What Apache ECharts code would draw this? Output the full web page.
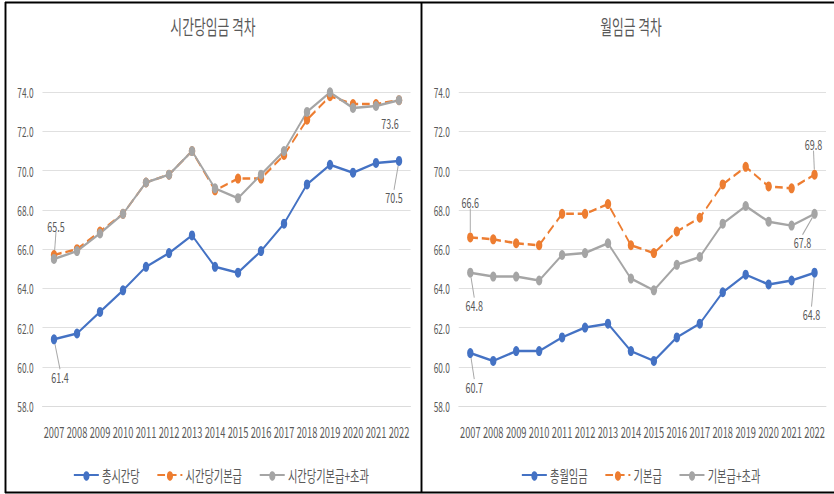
<!DOCTYPE html>
<html>
<head>
<meta charset="utf-8">
<script src="https://cdn.jsdelivr.net/npm/echarts@6/dist/echarts.min.js"></script>
<style>
  html, body { margin: 0; padding: 0; background: #fff; overflow: hidden; }
  #wrap { width: 834px; height: 494px; overflow: hidden; }
  /* the reference is squeezed horizontally, so draw wide and squeeze */
  #chart { height: 494px; transform-origin: 0 0; }
</style>
</head>
<body>
<div id="wrap"><div id="chart"></div></div>
<script>
// 가로 압축 비율
const SX = 0.64

const years = ['2007', '2008', '2009', '2010', '2011', '2012', '2013', '2014', '2015', '2016', '2017', '2018', '2019', '2020', '2021', '2022']
const yTicks = [58, 60, 62, 64, 66, 68, 70, 72, 74]

// 시간당임금 격차
const hourlyTotal = [61.4, 61.7, 62.8, 63.9, 65.1, 65.8, 66.7, 65.1, 64.8, 65.9, 67.3, 69.3, 70.3, 69.9, 70.4, 70.5]
const hourlyBase = [65.7, 66.0, 66.9, 67.8, 69.4, 69.8, 71.0, 69.0, 69.6, 69.6, 70.8, 72.6, 73.8, 73.4, 73.4, 73.6]
const hourlyBaseOver = [65.5, 65.9, 66.8, 67.8, 69.4, 69.8, 71.0, 69.1, 68.6, 69.8, 71.0, 73.0, 74.0, 73.2, 73.3, 73.6]

// 월임금 격차
const monthlyTotal = [60.7, 60.3, 60.8, 60.8, 61.5, 62.0, 62.2, 60.8, 60.3, 61.5, 62.2, 63.8, 64.7, 64.2, 64.4, 64.8]
const monthlyBase = [66.6, 66.5, 66.3, 66.2, 67.8, 67.8, 68.3, 66.2, 65.8, 66.9, 67.6, 69.3, 70.2, 69.2, 69.1, 69.8]
const monthlyBaseOver = [64.8, 64.6, 64.6, 64.4, 65.7, 65.8, 66.3, 64.5, 63.9, 65.2, 65.6, 67.3, 68.2, 67.4, 67.2, 67.8]

const leftNames = ['총시간당', '시간당기본급', '시간당기본급+초과']
const rightNames = ['총월임금', '기본급', '기본급+초과']

const FONT = '"Noto Sans CJK KR", "Noto Sans", sans-serif'
const TXT = '#595959'
const BLUE = '#4472C4'
const ORANGE = '#ED7D31'
const GRAY = '#A5A5A5'

const W = 834 / SX
const px = (x) => x / SX

const chartDom = document.getElementById('chart')
chartDom.style.width = W + 'px'
chartDom.style.transform = 'scaleX(' + SX + ')'

// 데이터 라벨 위치 (점 기준 오프셋, 원본 px)
const makeSeries = (name, data, color, dashed, axisIdx, labels) => ({
  name,
  type: 'line',
  xAxisIndex: axisIdx,
  yAxisIndex: axisIdx,
  clip: false,
  symbol: 'circle',
  symbolSize: 10,
  data: data.map((v, i) => labels[i]
    ? { value: v, label: { show: true }, labelLine: { show: labels[i][2] !== false } }
    : v),
  lineStyle: { color, width: 2.5, type: dashed ? [12, 6] : 'solid' },
  itemStyle: { color },
  label: {
    show: false,
    position: 'inside',
    formatter: (p) => p.value.toFixed(1),
    color: TXT,
    fontSize: 14,
    fontFamily: FONT,
  },
  labelLine: { show: false, lineStyle: { color: '#a6a6a6', width: 1.5 } },
  labelLayout: (p) => {
    const o = labels[p.dataIndex]
    return o ? { dx: px(o[0]), dy: o[1] } : {}
  },
})

const xAxisBase = (gridIndex) => ({
  type: 'category',
  gridIndex,
  data: years,
  axisLine: { lineStyle: { color: '#d9d9d9' } },
  axisTick: { show: false },
  axisLabel: { color: TXT, fontSize: 14.5, fontFamily: FONT, margin: 19, interval: 0 },
})

const yAxisBase = (gridIndex) => ({
  type: 'value',
  gridIndex,
  min: yTicks[0],
  max: yTicks[yTicks.length - 1],
  interval: 2,
  axisLine: { show: false },
  axisTick: { show: false },
  splitLine: { lineStyle: { color: '#d9d9d9', width: 1 } },
  axisLabel: { color: TXT, fontSize: 13, fontFamily: FONT, margin: px(9), formatter: (v) => v.toFixed(1) },
})

const legendBase = (data, left) => ({
  data,
  left: px(left),
  top: 462,
  itemWidth: px(25),
  itemHeight: 12,
  itemGap: px(17),
  textStyle: { color: TXT, fontSize: 16, fontFamily: FONT },
})

const frame = (x1, y1, x2, y2, w) => ({
  type: 'line',
  shape: { x1: px(x1), y1, x2: px(x2), y2 },
  style: { stroke: '#000', lineWidth: w },
  silent: true,
})

const option = {
  animation: false,
  textStyle: { fontFamily: FONT },
  title: [
    { text: '시간당임금 격차', left: px(213), top: 17, textAlign: 'center', padding: 0,
      textStyle: { color: TXT, fontSize: 20, fontWeight: 'normal', fontFamily: FONT } },
    { text: '월임금 격차', left: px(631), top: 17, textAlign: 'center', padding: 0,
      textStyle: { color: TXT, fontSize: 20, fontWeight: 'normal', fontFamily: FONT } },
  ],
  legend: [legendBase(leftNames, 70), legendBase(rightNames, 518)],
  grid: [
    { left: px(42.5), width: px(368), top: 92.3, height: 313.7 },
    { left: px(458.8), width: px(367.2), top: 92.3, height: 313.7 },
  ],
  xAxis: [xAxisBase(0), xAxisBase(1)],
  yAxis: [yAxisBase(0), yAxisBase(1)],
  series: [
    makeSeries(leftNames[0], hourlyTotal, BLUE, false, 0, { 0: [6, 37], 15: [-5, 36] }),
    makeSeries(leftNames[1], hourlyBase, ORANGE, true, 0, {}),
    makeSeries(leftNames[2], hourlyBaseOver, GRAY, false, 0, { 0: [2, -34], 15: [-9, 22, false] }),
    makeSeries(rightNames[0], monthlyTotal, BLUE, false, 1, { 0: [4, 33], 15: [-3, 41] }),
    makeSeries(rightNames[1], monthlyBase, ORANGE, true, 1, { 0: [0, -36], 15: [-1, -31] }),
    makeSeries(rightNames[2], monthlyBaseOver, GRAY, false, 1, { 0: [4, 32], 15: [-12, 28] }),
  ],
  graphic: [
    frame(5.5, 2, 5.5, 493, 3),
    frame(421.5, 2, 421.5, 493, 3),
    frame(5, 2.5, 834, 2.5, 2),
    frame(5, 492.5, 834, 492.5, 2),
  ],
}

const chart = echarts.init(chartDom, null, { renderer: 'svg', width: W, height: 494 })
chart.setOption(option)
</script>
</body>
</html>
